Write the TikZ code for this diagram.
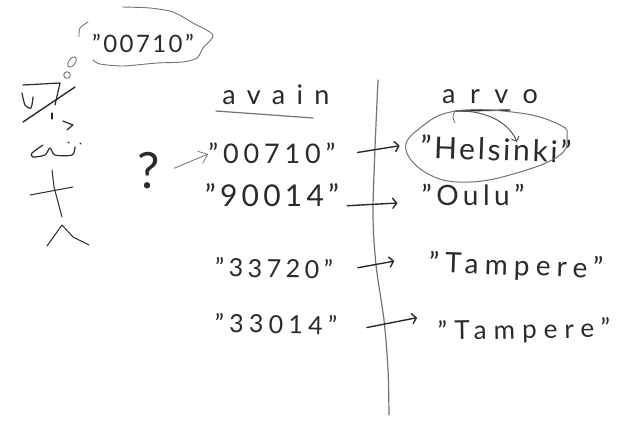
\documentclass[tikz,border=0pt]{standalone}
\usepackage{fontspec}
\setmainfont{Lato}
\usetikzlibrary{arrows.meta}
\definecolor{ink}{gray}{0.17}
\definecolor{soft}{gray}{0.45}
\newcommand{\spc}[1]{\addfontfeature{LetterSpace=#1}}
\tikzset{
  stroke/.style={draw=ink,line width=1.2pt,line cap=round,line join=round},
  thinstroke/.style={draw=soft,line width=.8pt,line cap=round,line join=round},
  hand/.style={text=ink,inner sep=0pt,anchor=center},
  conn/.style={stroke,line width=1.4pt,-{Straight Barb[length=4pt,width=10pt,round]}},
  qconn/.style={thinstroke,-{Straight Barb[length=8pt,width=13pt]}}
}
\begin{document}
\begin{tikzpicture}[x=1pt,y=-1pt]
\useasboundingbox[fill=white] (0,0) rectangle (644,421);
% headers
\node[hand,font=\fontsize{27}{27}\selectfont\spc{42}] (h1) at (276,95) {avain};
\node[hand,font=\fontsize{27}{27}\selectfont\spc{54}] (h2) at (490,97) {arvo};
\draw[thinstroke,line width=1.2pt] (216,111) -- (313,118);
\draw[stroke,line width=1.4pt] (456,111) -- (510,110);
% separator
\draw[thinstroke,line width=1.2pt] plot[smooth] coordinates {(378,80) (375,148) (373,215) (376,265) (384,320) (388,370) (389,415)};
% keys
\node[hand,font=\fontsize{27}{27}\selectfont\spc{18},inner xsep=6pt] (k1) at (272,153) {"00710"};
\node[hand,font=\fontsize{30}{30}\selectfont\spc{14},inner xsep=3pt] (k2) at (272,195) {"90014"};
\node[hand,font=\fontsize{25}{25}\selectfont\spc{18},inner xsep=6pt,rotate=-1] (k3) at (274,268) {"33720"};
\node[hand,font=\fontsize{25}{25}\selectfont\spc{21},inner xsep=6pt,rotate=-1] (k4) at (276,324) {"33014"};
% values
\node[hand,font=\fontsize{30}{30}\selectfont\spc{9},inner xsep=5pt,rotate=-2] (v1) at (496,149) {"Helsinki"};
\node[hand,font=\fontsize{28}{28}\selectfont\spc{16},inner xsep=5pt] (v2) at (473,195) {"Oulu"};
\node[hand,font=\fontsize{28}{28}\selectfont\spc{22},inner xsep=5pt,rotate=-2] (v3) at (516,267) {"Tampere"};
\node[hand,font=\fontsize{26}{26}\selectfont\spc{27},inner xsep=5pt,rotate=1] (v4) at (524,331) {"Tampere"};
% connectors
\draw[conn,shorten <=16pt,shorten >=16pt] ([yshift=-2pt]k1.east) -- ([yshift=3pt]v1.west);
\draw[conn,shorten <=5pt,shorten >=19pt] ([yshift=-11pt]k2.east) -- ([yshift=-7pt]v2.west);
\draw[conn,shorten <=19pt,shorten >=30pt] ([yshift=-2pt]k3.east) -- ([yshift=8pt]v3.west);
\draw[conn,shorten <=24pt,shorten >=16pt] ([yshift=-7pt]k4.east) -- ([yshift=18pt]v4.west);
% circle and arrow on Helsinki
\draw[stroke,draw=soft,line width=1pt] plot[smooth cycle,tension=.7] coordinates {(456,111) (520,113) (560,125) (567,136) (560,155) (520,172) (470,182) (430,175) (406,150) (420,128)};
\coordinate (tailA) at (455,111);
\draw[conn,draw=ink!80,line width=1pt,-{Straight Barb[length=4pt,width=8pt]}] (tailA) .. controls (490,110) and (510,125) .. (517,142);
\draw[thinstroke] (tailA) .. controls (452,115) and (453,119) .. (455,123);
% question
\node[hand,font=\fontsize{50}{50}\selectfont] (q) at (149,171) {?};
\draw[qconn,shorten <=15pt,shorten >=0pt] ([yshift=-3pt]q.east) -- ([xshift=6pt,yshift=-1pt]k1.west);
% thought bubble
\node[hand,font=\fontsize{24}{24}\selectfont\spc{10}] (b) at (143,43) {"00710"};
\draw[stroke,line width=.9pt,draw=soft] plot[smooth] coordinates {(79,37) (80,28) (88,22)};
\draw[stroke,line width=.9pt,draw=soft] plot[smooth,tension=.45] coordinates {(122,7) (150,8) (173,12) (193,23) (213,35) (203,48) (197,58) (183,62) (157,63) (123,66) (100,64) (93,60)};
\draw[stroke,line width=.9pt,draw=soft,rotate around={-35:(72,62)}] (72,62) ellipse (3.2 and 6);
\draw[stroke,line width=.9pt,draw=soft] (67,75) circle (3.3);
% figure
\draw[stroke] (23,85) -- (60,83) -- (55,105);
\draw[stroke] plot[smooth] coordinates {(22,93) (25,105) (31,108) (33,97)};
\draw[stroke,line width=1.4pt] (75,87) -- (23,122);
\draw[stroke] (52,113) -- (52,119);
\draw[stroke] (63,121) -- (73,125) -- (67,130);
\draw[stroke] plot[smooth,tension=.5] coordinates {(43,145) (32,153) (33,157) (45,155) (50,148) (55,155) (72,155) (75,147)};
\draw[stroke] (68,142) -- (69,143);
\draw[stroke] (80,143) -- (81,144);
\draw[stroke,line width=1pt] (52,170) -- (54,187) -- (62,217);
\draw[stroke,line width=1pt] (30,195) -- (73,187);
\draw[stroke,line width=1pt] (47,246) -- (62,225) -- (73,237) -- (89,245);
\end{tikzpicture}
\end{document}
